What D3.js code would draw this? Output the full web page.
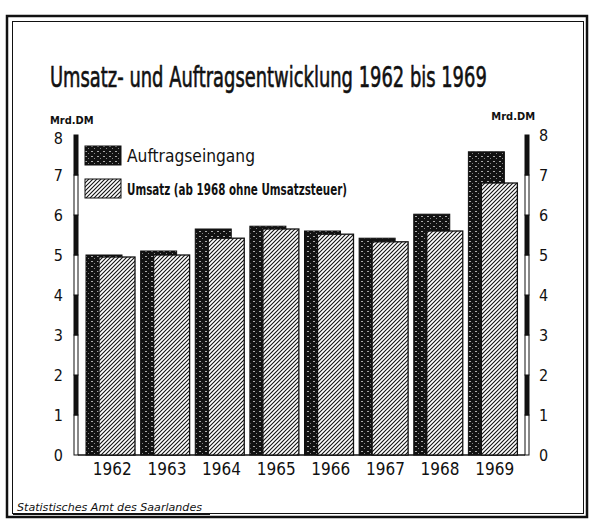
<!DOCTYPE html>
<html lang="de">
<head>
<meta charset="UTF-8">
<title>Umsatz- und Auftragsentwicklung 1962 bis 1969</title>
<script src="https://d3js.org/d3.v7.min.js"></script>
<style>
  body { margin: 0; background: #fff; }
  svg { display: block; }
  text { fill: #111; font-family: "DejaVu Sans Condensed", "DejaVu Sans", sans-serif; }
</style>
</head>
<body>
<svg width="589" height="522"></svg>
<script>
// data (Mrd. DM)
const years = ["1962", "1963", "1964", "1965", "1966", "1967", "1968", "1969"];
const auftragseingang = [5.0, 5.1, 5.65, 5.72, 5.6, 5.42, 6.02, 7.58];
const umsatz = [4.95, 5.0, 5.42, 5.65, 5.52, 5.33, 5.6, 6.8];
const ticks = [0, 1, 2, 3, 4, 5, 6, 7, 8];

const svg = d3.select("svg");
const width = 589, height = 522;

svg.append("rect").attr("width", width).attr("height", height).attr("fill", "#fff");

// patterns
const defs = svg.append("defs");
const dark = defs.append("pattern")
    .attr("id", "dark").attr("patternUnits", "userSpaceOnUse")
    .attr("width", 6).attr("height", 5);
dark.append("rect").attr("width", 6).attr("height", 5).attr("fill", "#121212");
dark.append("rect").attr("x", 1).attr("y", 1).attr("width", 2).attr("height", 1).attr("fill", "#aaa");
dark.append("rect").attr("x", 4).attr("y", 3).attr("width", 1).attr("height", 1).attr("fill", "#888");

const hatch = defs.append("pattern")
    .attr("id", "hatch").attr("patternUnits", "userSpaceOnUse")
    .attr("width", 4).attr("height", 4);
hatch.append("rect").attr("width", 4).attr("height", 4).attr("fill", "#fff");
hatch.append("path")
    .attr("d", "M-1,1 l2,-2 M0,4 l4,-4 M3,5 l2,-2")
    .attr("stroke", "#111").attr("stroke-width", 1.1);

// frame
svg.append("rect").attr("x", 7).attr("y", 16).attr("width", 580).attr("height", 501)
    .attr("fill", "none").attr("stroke", "#111").attr("stroke-width", 2.5);
svg.append("rect").attr("x", 12.5).attr("y", 21.5).attr("width", 571).attr("height", 492)
    .attr("fill", "none").attr("stroke", "#111").attr("stroke-width", 1);

// title: natural text, squeezed horizontally to the reference width
const title = svg.append("text")
    .attr("font-size", 28)
    .attr("stroke", "#111").attr("stroke-width", 0.6)
    .text("Umsatz- und Auftragsentwicklung 1962 bis 1969");
const tw = title.node().getComputedTextLength();
title.attr("transform", `translate(50,87) scale(${437 / tw},1)`);

// scales
const y = d3.scaleLinear().domain([0, 8]).range([455, 135]);
const x = d3.scaleBand().domain(years).range([84, 521]).padding(0);
const bw = x.bandwidth();

// units
svg.append("text").attr("x", 50).attr("y", 124).attr("font-size", 11).attr("font-weight", "bold").text("Mrd.DM");
svg.append("text").attr("x", 535).attr("y", 120).attr("text-anchor", "end")
    .attr("font-size", 11).attr("font-weight", "bold").text("Mrd.DM");

// axis scale bars (alternating segments)
function scaleBar(x0) {
    const g = svg.append("g");
    g.selectAll("rect").data(d3.range(8)).join("rect")
        .attr("x", x0).attr("width", 4)
        .attr("y", d => y(d + 1)).attr("height", d => y(d) - y(d + 1))
        .attr("fill", d => d % 2 === 1 ? "#111" : "#fff")
        .attr("stroke", "#111").attr("stroke-width", 1);
}
scaleBar(74);
scaleBar(525);

// tick labels via axes without lines
const leftAxis = svg.append("g").attr("transform", "translate(66,0)")
    .call(d3.axisLeft(y).tickValues(ticks).tickSize(0).tickFormat(d3.format("d")));
const rightAxis = svg.append("g").attr("transform", "translate(536,0)")
    .call(d3.axisRight(y).tickValues(ticks).tickSize(0).tickFormat(d3.format("d")));
[leftAxis, rightAxis].forEach(a => {
    a.select(".domain").remove();
    a.selectAll("text").attr("font-size", 16)
        .attr("font-family", "\"DejaVu Sans Condensed\", sans-serif").attr("fill", "#111");
});
leftAxis.selectAll(".tick").filter(d => d === 8).select("text").attr("dy", "0.5em");

// baseline
svg.append("line").attr("x1", 78).attr("x2", 525).attr("y1", y(0)).attr("y2", y(0))
    .attr("stroke", "#111").attr("stroke-width", 1.5);

// bars: Auftragseingang behind, Umsatz in front
svg.append("g").selectAll("rect").data(years).join("rect")
    .attr("x", d => x(d) + 2).attr("width", 36)
    .attr("y", (d, i) => y(auftragseingang[i]))
    .attr("height", (d, i) => y(0) - y(auftragseingang[i]))
    .attr("fill", "url(#dark)").attr("stroke", "#111").attr("stroke-width", 1);

svg.append("g").selectAll("rect").data(years).join("rect")
    .attr("x", d => x(d) + 15).attr("width", 36)
    .attr("y", (d, i) => y(umsatz[i]))
    .attr("height", (d, i) => y(0) - y(umsatz[i]))
    .attr("fill", "url(#hatch)").attr("stroke", "#111").attr("stroke-width", 1.3);

// year labels
svg.append("g").selectAll("text").data(years).join("text")
    .attr("x", d => x(d) + bw / 2 + 1).attr("y", 475)
    .attr("text-anchor", "middle").attr("font-size", 17)
    .text(d => d);

// legend
const legend = [
    { label: "Auftragseingang", fill: "url(#dark)", y: 146, size: 18 },
    { label: "Umsatz (ab 1968 ohne Umsatzsteuer)", fill: "url(#hatch)", y: 179, size: 15 }
];
const lg = svg.append("g").selectAll("g").data(legend).join("g");
lg.append("rect").attr("x", 85).attr("y", d => d.y).attr("width", 36).attr("height", 19)
    .attr("fill", d => d.fill).attr("stroke", "#111").attr("stroke-width", 1);
lg.append("text").attr("x", 127).attr("y", d => d.y + 16)
    .attr("font-size", d => d.size)
    .attr("font-weight", (d, i) => i === 1 ? "bold" : "normal")
    .attr("textLength", (d, i) => i === 0 ? 128 : 220)
    .attr("lengthAdjust", "spacingAndGlyphs")
    .text(d => d.label);

// source
svg.append("text").attr("x", 17).attr("y", 511)
    .attr("font-family", "\"DejaVu Sans\", sans-serif")
    .attr("font-style", "italic").attr("font-size", 10)
    .attr("textLength", 185).attr("lengthAdjust", "spacingAndGlyphs")
    .text("Statistisches Amt des Saarlandes");
svg.append("line").attr("x1", 13).attr("x2", 210).attr("y1", 514.5).attr("y2", 514.5)
    .attr("stroke", "#111").attr("stroke-width", 1);
</script>
</body>
</html>
